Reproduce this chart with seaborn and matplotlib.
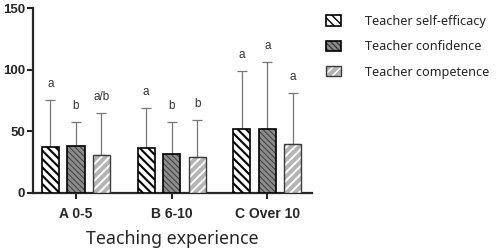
import matplotlib
matplotlib.use('Agg')
import matplotlib.pyplot as plt
import seaborn as sns
import pandas as pd
import numpy as np

groups = ['A 0-5', 'B 6-10', 'C Over 10']
measures = ['Teacher self-efficacy', 'Teacher confidence', 'Teacher competence']

self_efficacy = [37.3, 36.7, 51.5]
confidence = [37.8, 31.2, 52.1]
competence = [30.4, 29.1, 39.4]

self_efficacy_sd = [38.3, 32.1, 47.7]
confidence_sd = [19.7, 26.3, 54.5]
competence_sd = [34.3, 30.1, 41.5]

letters_self = ['a', 'a', 'a']
letters_conf = ['b', 'b', 'a']
letters_comp = ['a/b', 'b', 'a']

means = [self_efficacy, confidence, competence]
sds = [self_efficacy_sd, confidence_sd, competence_sd]
letters = [letters_self, letters_conf, letters_comp]

rows = []
for m, vals in zip(measures, means):
    for g, v in zip(groups, vals):
        rows.append({'group': g, 'measure': m, 'value': v})
df = pd.DataFrame(rows)

sns.set_style('ticks')
plt.rcParams['font.family'] = ['Noto Sans', 'DejaVu Sans']

fig = plt.figure(figsize=(5, 2.52), dpi=100)
ax = fig.add_axes([0.066, 0.235, 0.558, 0.733])

sns.barplot(data=df, x='group', y='value', hue='measure', order=groups,
            hue_order=measures, palette=['white', '#8c8c8c', '#b4b4b4'],
            gap=0.33, errorbar=None, legend=False, ax=ax, zorder=3)

styles = [
    dict(hatch='\\\\\\\\', edge='black', hatchc='black', hlw=1.5, elw=1.2),
    dict(hatch='\\\\\\\\\\\\', edge='black', hatchc='#3c3c3c', hlw=0.7, elw=1.2),
    dict(hatch='////', edge='#3a3a3a', hatchc='white', hlw=1.4, elw=1.0),
]

for cont, st, sd, lab in zip(ax.containers, styles, sds, letters):
    xs = []
    tops = []
    for p in cont.patches:
        p.set_hatch(st['hatch'])
        p.set_edgecolor(st['edge'])
        p.set_linewidth(st['elw'])
        if hasattr(p, 'set_hatchcolor'):
            p.set_hatchcolor(st['hatchc'])
        else:
            p._hatch_color = matplotlib.colors.to_rgba(st['hatchc'])
        if hasattr(p, 'set_hatch_linewidth'):
            p.set_hatch_linewidth(st['hlw'])
        else:
            p._hatch_linewidth = st['hlw']
        xs.append(p.get_x() + p.get_width() / 2)
        tops.append(p.get_height())
    xs = np.array(xs)
    tops = np.array(tops)
    ax.errorbar(xs, tops, yerr=[np.zeros(len(sd)), sd], fmt='none',
                ecolor='#777777', elinewidth=0.9, capsize=3.3, capthick=0.9,
                zorder=2)
    for x, t, s, l in zip(xs, tops, sd, lab):
        ax.text(x, t + s + 8, l, ha='center', va='bottom', fontsize=8.5,
                color='#333333', family=['Liberation Sans', 'DejaVu Sans'])

ax.set_ylim(0, 150)
ax.set_xlim(-0.449, 2.467)
ax.set_yticks([0, 50, 100, 150])
sns.despine(ax=ax)
for s in ['left', 'bottom']:
    ax.spines[s].set_linewidth(1.6)
ax.tick_params(axis='both', width=1.5, length=4)
ax.tick_params(axis='x', labelsize=10, pad=6)
ax.tick_params(axis='y', labelsize=9.5, pad=1.5)
for t in ax.get_xticklabels() + ax.get_yticklabels():
    t.set_fontfamily(['Liberation Sans', 'DejaVu Sans'])
    t.set_fontweight('bold')
ax.set_ylabel('')
ax.set_xlabel('Teaching experience', fontsize=12.8, labelpad=7)

ax.legend(handles=ax.containers, labels=measures, loc='upper left',
          bbox_to_anchor=(1.01, 1.025), frameon=False, fontsize=9.1,
          handlelength=1.2, handleheight=0.9, handletextpad=1.9,
          labelspacing=0.98)

fig.savefig('out.png', dpi=100)
